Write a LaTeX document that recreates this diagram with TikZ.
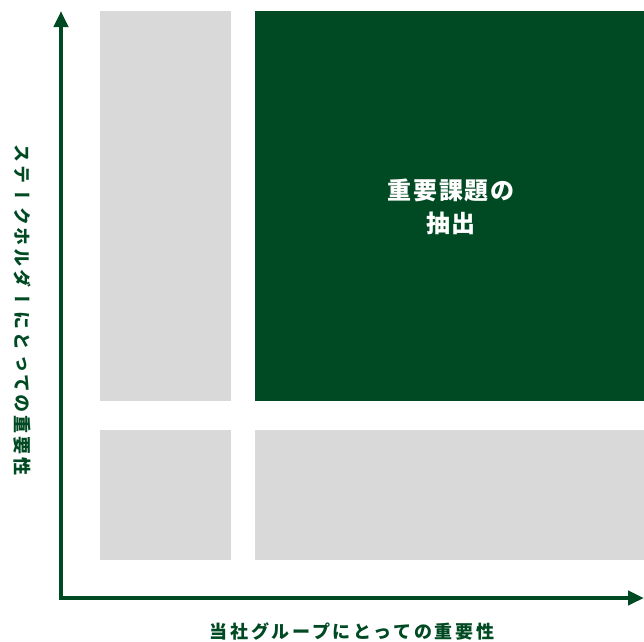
\documentclass[tikz,border=0pt]{standalone}
\usepackage{fontspec}
\newfontfamily\jpc[LetterSpace=8]{Noto Sans CJK JP}
\newfontfamily\jpx[LetterSpace=15]{Noto Sans CJK JP}
\newfontfamily\vjp[Vertical=RotatedGlyphs,RawFeature=+vert,LetterSpace=16]{Noto Sans CJK JP}
\usetikzlibrary{arrows.meta}
\definecolor{dgreen}{HTML}{004A23}
\definecolor{lgray}{HTML}{D9D9D9}
\begin{document}
\begin{tikzpicture}[x=1pt,y=-1pt,
  cell/.style={fill=lgray,draw=none},
  axis/.style={draw=dgreen,line width=4.5pt,-{Triangle[length=16pt,width=14pt]}},
  lbl/.style={text=dgreen,inner sep=0pt}]
\useasboundingbox (0,0) rectangle (644,641);
\fill[cell] (100,11) rectangle (231,401);
\fill[cell] (100,430) rectangle (231,560);
\fill[cell] (255,430) rectangle (644,560);
\fill[dgreen] (255,11) rectangle (644,401);
\node[text=white,font=\jpc\bfseries\fontsize{24}{33}\selectfont,align=center,inner sep=0pt] (c) at (451,207) {重要課題の\\抽出};
\coordinate (o) at (61,598);
\coordinate (yt) at (61,11);
\coordinate (xt) at (644,598);
\draw[axis] ([yshift=-2.25pt]o) -- (yt);
\draw[axis] ([xshift=-2.25pt]o) -- (xt);
\node[lbl,font=\jpx\bfseries\fontsize{18}{20}\selectfont] (xl) at (352,631) {当社グループにとっての重要性};
\node[lbl,font=\vjp\bfseries\fontsize{18}{20}\selectfont,rotate=-90] (yl) at (22,310) {ステークホルダーにとっての重要性};
\end{tikzpicture}
\end{document}
